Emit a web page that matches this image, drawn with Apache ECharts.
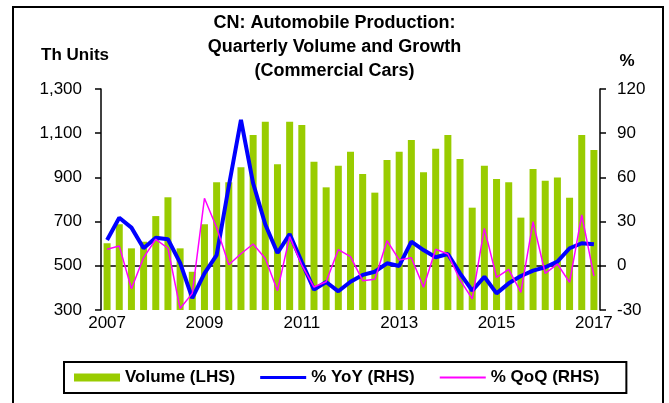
<!DOCTYPE html>
<html>
<head>
<meta charset="utf-8">
<script src="https://cdn.jsdelivr.net/npm/echarts@6/dist/echarts.min.js"></script>
<style>
  html, body { margin: 0; padding: 0; background: #fff; }
  #chart { width: 669px; height: 403px; }
</style>
</head>
<body>
<div id="chart"></div>
<script>
// quarters 2007Q1 .. 2017Q1
var quarters = [];
for (var y = 2007; y <= 2017; y++) {
    for (var q = 1; q <= 4; q++) {
        if (y === 2017 && q > 1) break;
        quarters.push(y + 'Q' + q);
    }
}

// Volume, th units (LHS)
var volume = [602, 688, 579, 609, 725, 810, 579, 473, 688, 878, 878, 946, 1092, 1152,
    960, 1152, 1137, 971, 855, 953, 1016, 915, 831, 979, 1016, 1069, 923, 1030,
    1092, 983, 763, 953, 893, 878, 718, 938, 885, 900, 808, 1092, 1024];

// % YoY (RHS)
var yoy = [17.5, 32.6, 25.9, 11.9, 19.1, 18, 2, -22, -5.1, 7.3, 54, 99, 56, 28,
    8.7, 21.5, 2.5, -16.2, -11, -17.3, -10.8, -6.2, -4, 1.7, -0.1, 16.4, 10.7, 5.8,
    8, -5.1, -16.9, -7.4, -18.7, -11.9, -6.9, -3.3, -1, 2.8, 11.9, 15.3, 14.6];

// % QoQ (RHS)
var qoq = [11.3, 13.5, -15.6, 5.6, 18, 11.9, -29, -18.7, 45.8, 26, 0.7, 8.2, 14.8, 5,
    -16.9, 19.8, 0.5, -14.4, -10.8, 11, 6.2, -10.1, -9.2, 17, 4, 5.5, -14.6, 11.2,
    8, -9.6, -22.5, 25.4, -7.8, -2.4, -18, 29.9, -5.1, 1.2, -11.2, 34.5, -6.9];

var font = 'Liberation Sans, Arial, sans-serif';

// legend line icons (zero-area corners keep the 46x8 box)
var thickLine = 'path://M0,0L0.01,0ZM0,2.5H46V5.5H0ZM0,8L0.01,8Z';
var thinLine = 'path://M0,0L0.01,0ZM0,3H46V5H0ZM0,8L0.01,8Z';

var myChart = echarts.init(document.getElementById('chart'), null, {renderer: 'canvas'});
var option = {
    backgroundColor: '#fff',
    animation: false,
    textStyle: {fontFamily: font, color: '#000'},
    title: {
        text: 'CN: Automobile Production:\nQuarterly Volume and Growth\n(Commercial Cars)',
        left: 'center',
        top: 6,
        textStyle: {fontFamily: font, fontSize: 18, fontWeight: 'bold', lineHeight: 24, color: '#000'}
    },
    graphic: [
        {type: 'rect', shape: {x: 13, y: 7, width: 650, height: 420},
            style: {fill: 'none', stroke: '#000', lineWidth: 2}, silent: true},
        {type: 'text', x: 75, y: 55, style: {text: 'Th Units', font: 'bold 17px ' + font,
            fill: '#000', textAlign: 'center', textVerticalAlign: 'middle'}},
        {type: 'text', x: 627, y: 61, style: {text: '%', font: 'bold 17px ' + font,
            fill: '#000', textAlign: 'center', textVerticalAlign: 'middle'}}
    ],
    legend: {
        left: 64,
        top: 362,
        itemWidth: 46,
        itemHeight: 8,
        itemGap: 25,
        padding: [7, 27, 7, 10],
        borderColor: '#000',
        borderWidth: 2,
        textStyle: {fontFamily: font, fontSize: 17, fontWeight: 'bold', color: '#000'},
        data: [
            {name: 'Volume (LHS)', icon: 'rect', itemStyle: {color: '#99cc00', borderWidth: 0}},
            {name: '% YoY (RHS)', icon: thickLine, itemStyle: {color: '#0000ff', borderWidth: 0}},
            {name: '% QoQ (RHS)', icon: thinLine, itemStyle: {color: '#ff00ff', borderWidth: 0}}
        ]
    },
    grid: {left: 101, right: 69, top: 89, bottom: 93},
    xAxis: {
        type: 'category',
        data: quarters,
        boundaryGap: true,
        axisLine: {lineStyle: {color: '#000', width: 1.5}},
        axisTick: {
            length: 6,
            lineStyle: {color: '#000', width: 1.5},
            interval: function (index) { return index % 4 === 0; }
        },
        axisLabel: {
            interval: function (index) { return index % 8 === 0; },
            formatter: function (v) { return v.slice(0, 4); },
            fontSize: 17,
            color: '#000',
            margin: 5
        }
    },
    yAxis: [
        {
            type: 'value',
            min: 300,
            max: 1300,
            interval: 200,
            splitLine: {show: false},
            axisLine: {show: true, lineStyle: {color: '#000', width: 1.5}},
            axisTick: {show: true, length: 6, lineStyle: {color: '#000', width: 1.5}},
            axisLabel: {
                fontSize: 17,
                color: '#000',
                margin: 19,
                formatter: function (v) { return v.toLocaleString('en-US'); }
            }
        },
        {
            type: 'value',
            min: -30,
            max: 120,
            interval: 30,
            splitLine: {show: false},
            axisLine: {show: true, lineStyle: {color: '#000', width: 1.5}},
            axisTick: {show: true, length: 6, lineStyle: {color: '#000', width: 1.5}},
            axisLabel: {fontSize: 17, color: '#000', margin: 17}
        }
    ],
    series: [
        {
            name: 'Volume (LHS)',
            type: 'bar',
            data: volume,
            barWidth: 7,
            itemStyle: {color: '#99cc00'},
            markLine: {
                silent: true,
                symbol: 'none',
                label: {show: false},
                lineStyle: {color: '#ff0000', type: [6, 4], width: 2},
                data: [[
                    {coord: [quarters[0], 0], yAxis: 0},
                    {coord: [quarters[quarters.length - 1], 0]}
                ]]
            }
        },
        {
            name: '% YoY (RHS)',
            type: 'line',
            yAxisIndex: 1,
            data: yoy,
            symbol: 'none',
            lineStyle: {color: '#0000ff', width: 4},
            itemStyle: {color: '#0000ff'}
        },
        {
            name: '% QoQ (RHS)',
            type: 'line',
            yAxisIndex: 1,
            data: qoq,
            symbol: 'none',
            lineStyle: {color: '#ff00ff', width: 1.5},
            itemStyle: {color: '#ff00ff'}
        }
    ]
};
myChart.setOption(option);
</script>
</body>
</html>
